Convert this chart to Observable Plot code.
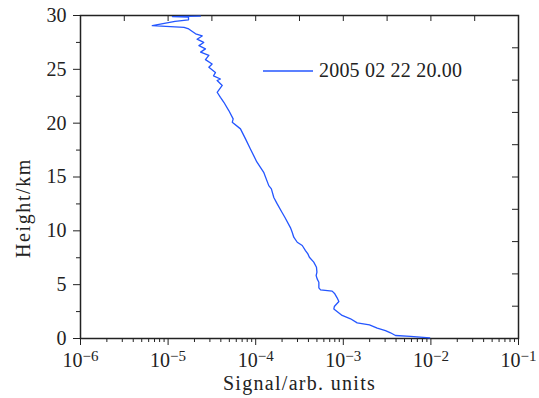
<!DOCTYPE html>
<html>
<head>
<meta charset="utf-8">
<script src="https://cdn.jsdelivr.net/npm/d3@7"></script>
<script src="https://cdn.jsdelivr.net/npm/@observablehq/plot@0.6"></script>
<style>
  html, body { margin: 0; padding: 0; background: #fff; }
  #wrap { position: relative; width: 539px; height: 398px; }
  #legend { position: absolute; left: 263px; top: 59px; font-family: "Liberation Serif", serif; font-size: 20px; color: #222; white-space: nowrap; display: flex; align-items: center; letter-spacing: 0.2px; }
  #legend svg { margin-right: 6px; }
</style>
</head>
<body>
<div id="wrap"><div id="legend"><svg width="50" height="4"><line x1="0" x2="50" y1="2" y2="2" stroke="#2456ff" stroke-width="1.3"></line></svg><span id="legtext"></span></div></div>
<script>
const heights = [0.05, 0.19, 0.28, 0.53, 0.74, 0.96, 1.27, 1.45, 1.83, 2.14, 2.75, 2.97, 3.44, 3.78, 4.15, 4.4, 4.52, 4.7, 5.23, 5.54, 5.85, 6.16, 6.62, 7.09, 7.55, 7.86, 8.17, 8.64, 8.94, 9.41, 9.87, 10.3, 11.26, 11.7, 12.5, 13.1, 13.9, 14.2, 15.4, 16.4, 17.6, 18.54, 19.47, 20.08, 20.4, 21.17, 21.94, 22.4, 22.87, 23.5, 23.96, 24.1, 24.4, 24.7, 25.2, 25.5, 25.9, 26.3, 26.6, 26.9, 27.2, 27.5, 27.8, 28.1, 28.3, 28.75, 28.9, 29.06, 29.45, 29.6, 29.85, 29.9, 29.95];
const signal = [9.7e-3, 5.85e-3, 3.94e-3, 3.46e-3, 3.03e-3, 2.44e-3, 1.99e-3, 1.44e-3, 1.21e-3, 9.7e-4, 7.8e-4, 7.9e-4, 8.9e-4, 8.5e-4, 8.0e-4, 7.46e-4, 5.5e-4, 5.26e-4, 5.26e-4, 5.03e-4, 4.9e-4, 5.0e-4, 4.94e-4, 4.6e-4, 4.1e-4, 3.94e-4, 3.7e-4, 3.4e-4, 2.98e-4, 2.72e-4, 2.61e-4, 2.49e-4, 2.15e-4, 2.0e-4, 1.76e-4, 1.61e-4, 1.51e-4, 1.41e-4, 1.24e-4, 1.03e-4, 8.7e-5, 7.65e-5, 6.7e-5, 5.4e-5, 5.53e-5, 4.93e-5, 4.33e-5, 3.96e-5, 3.63e-5, 4.15e-5, 3.63e-5, 3.96e-5, 3.3e-5, 3.47e-5, 2.92e-5, 3.18e-5, 2.67e-5, 2.92e-5, 2.35e-5, 2.67e-5, 2.25e-5, 2.55e-5, 2.14e-5, 2.45e-5, 2.06e-5, 1.72e-5, 1.52e-5, 6.6e-6, 1.2e-5, 1.71e-5, 1.71e-5, 1.12e-5, 2.34e-5];

const seriesName = "2005 02 22 20.00";
const xLabel = "Signal/arb. units";
const yLabel = "Height/km";

const xMajor = [1e-6, 1e-5, 1e-4, 1e-3, 1e-2, 1e-1];
const xExponents = ["\u22126", "\u22125", "\u22124", "\u22123", "\u22122", "\u22121"];
const xMinorMult = [2, 3, 4, 5, 6, 7, 8, 9];
const xTop = [1e-6, 3.162e-6, 1e-5, 3.162e-5, 1e-4, 3.162e-4, 1e-3, 3.162e-3, 1e-2, 3.162e-2, 1e-1];
const yMajor = [0, 5, 10, 15, 20, 25, 30];
const yMinor = [2.5, 7.5, 12.5, 17.5, 22.5, 27.5];
const yRight = [0, 3, 6, 9, 12, 15, 18, 21, 24, 27, 30];

const data = heights.map((h, i) => ({h, s: signal[i]}));
const xMinor = xMajor.slice(0, -1).flatMap(d => xMinorMult.map(m => d * m));

const lineColor = "#2456ff";
const ink = "#222";
const font = "Liberation Serif, serif";
const fs = 20;

const chart = Plot.plot({
  width: 539,
  height: 398,
  marginLeft: 80,
  marginRight: 21,
  marginTop: 15,
  marginBottom: 60,
  x: {type: "log", domain: [1e-6, 1e-1]},
  y: {domain: [0, 30]},
  style: {fontFamily: font, fontSize: fs + "px", color: ink, background: "white"},
  marks: [
    Plot.axisX(xMinor, {anchor: "bottom", tickSize: 4, tickFormat: () => "", label: null, stroke: ink}),
    Plot.axisX(xMajor, {anchor: "bottom", tickSize: 7, tickPadding: 7, tickFormat: d => "10|" + xExponents[xMajor.indexOf(d)], label: null, stroke: ink, fill: ink, fontSize: fs}),
    Plot.axisX(xTop, {anchor: "top", tickSize: -5, tickFormat: () => "", label: null, stroke: ink}),
    Plot.axisY(yMinor, {anchor: "left", tickSize: 4, tickFormat: () => "", label: null, stroke: ink}),
    Plot.axisY(yMajor, {anchor: "left", tickSize: 7, tickPadding: 7, tickFormat: d => String(d), label: null, stroke: ink, fill: ink, fontSize: fs}),
    Plot.axisY(yRight, {anchor: "right", tickSize: -7, tickFormat: () => "", label: null, stroke: ink}),
    Plot.frame({stroke: ink, strokeWidth: 1.5}),
    Plot.line(data, {x: "s", y: "h", stroke: lineColor, strokeWidth: 1.3, curve: "linear"}),
    Plot.text([xLabel], {frameAnchor: "bottom", textAnchor: "middle", dy: 51, text: d => d, fill: ink, fontSize: fs}),
    Plot.text([yLabel], {frameAnchor: "left", textAnchor: "middle", dx: -57, dy: 31, rotate: -90, text: d => d, fill: ink, fontSize: fs})
  ]
});

// Render exponents of the decade labels as raised superscripts; widen axis titles
d3.select(chart).selectAll("text").each(function() {
  const t = this.textContent;
  const sel = d3.select(this);
  if (t === xLabel || t === yLabel) {
    sel.style("letter-spacing", t === xLabel ? "1.3px" : "1.6px");
    return;
  }
  if (t.indexOf("|") < 0) return;
  const [base, exp] = t.split("|");
  sel.text(base);
  sel.append("tspan").attr("dy", "-0.4em").attr("font-size", "15px").text(exp);
});

document.getElementById("wrap").prepend(chart);
document.getElementById("legtext").textContent = seriesName;
</script>
</body>
</html>
